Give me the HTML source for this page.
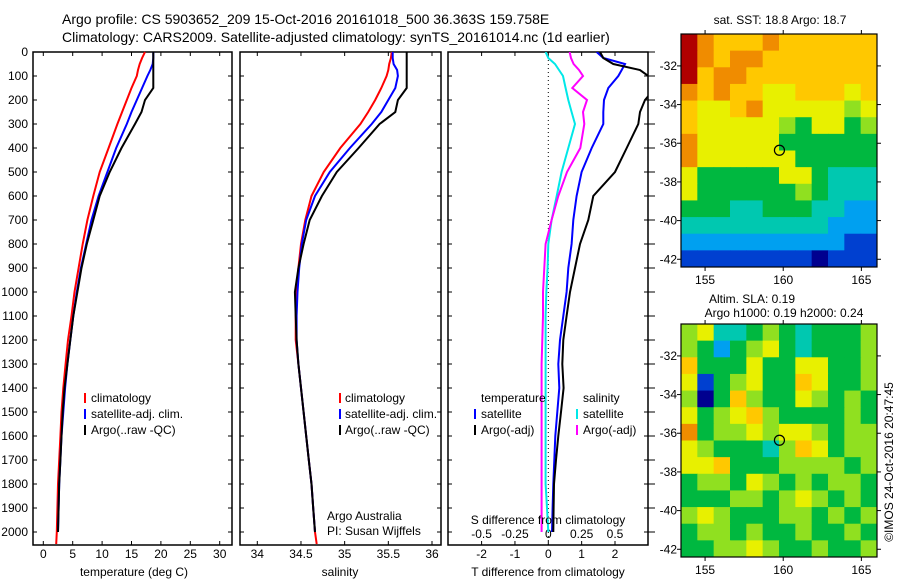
<!DOCTYPE html>
<html><head><meta charset="utf-8">
<style>
body{margin:0;background:#fff;}
svg{display:block;font-family:"Liberation Sans",sans-serif;}
text{fill:#000;}
</style></head>
<body>
<svg id="c" width="900" height="580" viewBox="0 0 900 580">
<text x="62" y="24" font-size="14">Argo profile: CS 5903652_209 15-Oct-2016 20161018_500 36.363S 159.758E</text>
<text x="62" y="42" font-size="14">Climatology: CARS2009. Satellite-adjusted climatology: synTS_20161014.nc (1d earlier)</text>
</svg>
<script>
// ---- data ----
const depths = [0,25,50,75,100,150,200,250,300,400,500,600,700,800,900,1000,1100,1200,1300,1400,1500,1600,1700,1800,1900,2000];
const tempClim = [17.3,16.8,16.4,16.1,15.9,15.0,14.2,13.4,12.6,11.1,9.6,8.5,7.5,6.7,6.0,5.3,4.8,4.2,3.8,3.4,3.1,2.9,2.7,2.5,2.4,2.3];
const tempSat  = [18.7,18.7,18.6,18.2,17.7,16.8,15.9,15.0,14.2,12.4,10.9,9.4,8.2,7.3,6.4,5.7,5.1,4.6,4.1,3.7,3.4,3.1,2.9,2.7,2.6,2.5];
const tempArgo = [18.7,18.7,18.7,18.7,18.7,18.7,17.3,16.7,15.6,13.3,11.3,9.6,8.5,7.4,6.5,5.8,5.1,4.6,4.1,3.6,3.3,3.1,2.9,2.7,2.6,2.5];
const salClim = [35.54,35.53,35.51,35.50,35.48,35.42,35.35,35.27,35.18,34.95,34.76,34.62,34.55,34.50,34.47,34.45,34.44,34.44,34.47,34.50,34.53,34.56,34.59,34.62,34.64,34.66];
const salSat  = [35.55,35.55,35.56,35.60,35.61,35.58,35.50,35.42,35.31,35.06,34.83,34.66,34.56,34.51,34.48,34.46,34.45,34.45,34.47,34.50,34.53,34.56,34.59,34.62,34.64,34.66];
const salArgo = [35.71,35.71,35.71,35.71,35.71,35.71,35.61,35.58,35.40,35.16,34.91,34.74,34.60,34.53,34.47,34.43,34.44,34.45,34.47,34.50,34.53,34.56,34.59,34.62,34.64,34.66];
const dTSat  = [1.45,1.65,2.3,2.2,2.1,1.8,1.67,1.65,1.65,1.3,1.0,0.85,0.75,0.70,0.6,0.55,0.45,0.35,0.3,0.33,0.27,0.21,0.18,0.15,0.13,0.11];
const dTArgo = [1.55,1.65,1.95,2.75,3.0,3.2,2.9,2.75,2.7,2.35,2.0,1.35,1.2,0.95,0.8,0.65,0.55,0.45,0.42,0.46,0.38,0.3,0.23,0.17,0.16,0.15];
const dSSat  = [-0.02,0.0,0.05,0.08,0.11,0.13,0.15,0.175,0.2,0.15,0.10,0.063,0.025,0.0,-0.005,-0.015,-0.02,-0.02,-0.02,-0.02,-0.02,-0.02,-0.02,-0.02,-0.01,0.0];
const dSArgo = [0.16,0.17,0.19,0.23,0.26,0.18,0.29,0.26,0.27,0.24,0.14,0.075,0.025,-0.02,-0.03,-0.04,-0.04,-0.045,-0.05,-0.05,-0.05,-0.05,-0.05,-0.05,-0.05,-0.05];
const depthTicks = [0,100,200,300,400,500,600,700,800,900,1000,1100,1200,1300,1400,1500,1600,1700,1800,1900,2000];
const tempTicks = [0,5,10,15,20,25,30];
const salTicks = [34,34.5,35,35.5,36];
const salTickLabels = ["34","34.5","35","35.5","36"];
const dTTicks = [-2,-1,0,1,2];
const dSTicks = [-0.5,-0.25,0,0.25,0.5];
const lonTicks = [155,160,165];
const latTicks = [-32,-34,-36,-38,-40,-42];
const sstGrid = [
[9,8,7,7,7,8,7,7,7,7,7,7],[9,8,7,8,8,7,7,7,7,7,7,7],[9,7,8,8,7,7,7,7,7,7,7,7],
[8,7,8,7,7,6,6,7,7,7,6,7],[7,6,6,7,8,6,6,6,6,6,5,6],[7,6,6,6,6,6,5,4,6,6,4,5],
[8,6,6,6,6,6,4,4,4,4,4,4],[8,6,6,6,6,6,6,4,4,4,4,4],[6,4,4,4,4,4,6,6,4,3,3,3],
[6,4,4,4,4,4,4,5,4,3,3,3],[4,4,4,3,3,4,4,4,3,3,2,2],[3,3,3,3,3,3,3,3,3,2,2,2],
[2,2,2,2,2,2,2,2,2,2,1,1],[1,1,1,1,1,1,1,1,0,1,1,1]];
const slaGrid = [
[5,6,3,3,4,5,4,3,4,4,4,5],[5,4,2,4,5,6,4,3,4,4,4,5],[7,4,4,4,6,4,4,6,6,4,4,5],
[6,1,4,5,6,4,4,7,6,4,4,5],[5,0,4,7,5,4,4,6,5,4,5,4],[6,4,5,6,7,5,4,4,4,4,5,4],
[8,4,5,5,6,5,6,6,5,4,5,5],[6,5,4,4,4,3,5,7,6,4,5,5],[6,6,7,4,4,4,5,5,5,5,4,5],
[4,5,5,4,6,5,4,5,4,5,5,4],[4,4,4,5,5,4,5,6,5,4,5,4],[5,6,5,4,4,4,5,5,4,5,4,5],
[4,5,5,4,5,4,4,5,4,4,5,4],[4,4,5,5,6,5,4,4,5,4,4,5]];
const palette = ["#00008f","#0040d0","#00a0f0","#00c8b0","#00b840","#90e020","#e8f000","#ffc800","#f08c00","#b00000"];
const argoLon = 159.758, argoLat = -36.363;

// ---- helpers ----
const svg = document.getElementById('c');
const NS = 'http://www.w3.org/2000/svg';
function mk(tag, attrs, parent){const e=document.createElementNS(NS,tag);for(const k in attrs)e.setAttribute(k,attrs[k]);(parent||svg).appendChild(e);return e;}
const TOP=52, BOT=545;
const yD = d => TOP + d*0.24;
function lin(d0,d1,p0,p1){return v=>p0+(v-d0)*(p1-p0)/(d1-d0);}
const xT = lin(0,30,43.3,219.7);
const xS = lin(34,36,257.3,432);
const xDT = lin(0,2,548.3,615);
const xDS = lin(0,0.5,548.3,615);

function frame(x0,x1,name){
  const r=mk('rect',{x:x0,y:TOP,width:x1-x0,height:BOT-TOP,fill:'none',stroke:'#000','stroke-width':1.5});
  
  
  depthTicks.forEach(d=>{
    mk('line',{x1:x0,x2:x0+4,y1:yD(d),y2:yD(d),stroke:'#000'});
    mk('line',{x1:x1,x2:x1-4,y1:yD(d),y2:yD(d),stroke:'#000'});
  });
}
function line(xs,ys,xf,color,name,clipId){
  const pts=xs.map((v,i)=>xf(v).toFixed(1)+','+yD(ys[i]).toFixed(1)).join(' ');
  const p=mk('polyline',{points:pts,fill:'none',stroke:color,'stroke-width':2});
  if(clipId)p.setAttribute('clip-path','url(#'+clipId+')');
  
  
}
function txt(x,y,s,size,anchor,name){
  const t=mk('text',{x:x,y:y,'font-size':size,'text-anchor':anchor||'start'});
  t.textContent=s;
  
  
  return t;
}

// clip for panel 3
const defs=mk('defs',{});
const cp=mk('clipPath',{id:'p3clip'},defs);
mk('rect',{x:448,y:TOP,width:200,height:BOT-TOP},cp);

// ---- panel 1 ----
frame(33,232,'temperature-panel');
tempTicks.forEach(t=>{mk('line',{x1:xT(t),x2:xT(t),y1:TOP,y2:TOP+4,stroke:'#000'});mk('line',{x1:xT(t),x2:xT(t),y1:BOT,y2:BOT-4,stroke:'#000'});txt(xT(t),558,String(t),12,'middle','temp-tick-label');});
depthTicks.forEach(d=>txt(28,yD(d)+4,String(d),12,'end','depth-tick-label'));
line(tempClim.concat([2.2]),depths.concat([2050]),xT,'#ff0000','temp-climatology-line');
line(tempSat,depths,xT,'#0000ff','temp-satellite-line');
line(tempArgo,depths,xT,'#000000','temp-argo-line');
txt(134,576,'temperature (deg C)',12,'middle','temp-axis-title');
[['#ff0000','climatology'],['#0000ff','satellite-adj. clim.'],['#000','Argo(..raw -QC)']].forEach((l,i)=>{
  mk('rect',{x:84,y:393+i*16,width:2,height:10,fill:l[0]});
  txt(91,402+i*16,l[1],12,'start','temp-legend-entry');
});

// ---- panel 2 ----
frame(240,441,'salinity-panel');
salTicks.forEach((s,i)=>{mk('line',{x1:xS(s),x2:xS(s),y1:TOP,y2:TOP+4,stroke:'#000'});mk('line',{x1:xS(s),x2:xS(s),y1:BOT,y2:BOT-4,stroke:'#000'});txt(xS(s),558,salTickLabels[i],12,'middle','sal-tick-label');});
line(salClim.concat([34.68]),depths.concat([2050]),xS,'#ff0000','sal-climatology-line');
line(salSat,depths,xS,'#0000ff','sal-satellite-line');
line(salArgo,depths,xS,'#000000','sal-argo-line');
txt(340,576,'salinity',12,'middle','sal-axis-title');
[['#ff0000','climatology'],['#0000ff','satellite-adj. clim.'],['#000','Argo(..raw -QC)']].forEach((l,i)=>{
  mk('rect',{x:339,y:393+i*16,width:2,height:10,fill:l[0]});
  txt(345,402+i*16,l[1],12,'start','sal-legend-entry');
});
txt(327,520,'Argo Australia',12,'start','argo-australia-label');
txt(327,535,'PI: Susan Wijffels',12,'start','pi-label');

// ---- panel 3 ----
frame(448,648,'difference-panel');
depthTicks.forEach(d=>mk('line',{x1:648,x2:655,y1:yD(d),y2:yD(d),stroke:'#000'}));
dTTicks.forEach(t=>{mk('line',{x1:xDT(t),x2:xDT(t),y1:TOP,y2:TOP+4,stroke:'#000'});mk('line',{x1:xDT(t),x2:xDT(t),y1:BOT,y2:BOT-4,stroke:'#000'});txt(xDT(t),558,String(t),12,'middle','tdiff-tick-label');});
dSTicks.forEach(s=>txt(xDS(s),538,String(s),12,'middle','sdiff-tick-label'));
mk('line',{x1:548.3,x2:548.3,y1:TOP,y2:BOT,stroke:'#000','stroke-dasharray':'1,3'});
line(dSSat,depths,xDS,'#00e8e8','sdiff-satellite-line','p3clip');
line(dSArgo,depths,xDS,'#ff00ff','sdiff-argo-line','p3clip');
line(dTSat,depths,xDT,'#0000ff','tdiff-satellite-line','p3clip');
line(dTArgo,depths,xDT,'#000000','tdiff-argo-line','p3clip');
txt(548,524,'S difference from climatology',12,'middle','sdiff-axis-title');
txt(548,576,'T difference from climatology',12,'middle','tdiff-axis-title');
txt(481,402,'temperature',12,'start','legend-temperature-header');
txt(583,402,'salinity',12,'start','legend-salinity-header');
mk('rect',{x:474,y:409,width:2,height:10,fill:'#0000ff'});txt(481,418,'satellite',12,'start','legend-t-satellite');
mk('rect',{x:474,y:425,width:2,height:10,fill:'#000'});txt(481,434,'Argo(-adj)',12,'start','legend-t-argo');
mk('rect',{x:576,y:409,width:2,height:10,fill:'#00e8e8'});txt(583,418,'satellite',12,'start','legend-s-satellite');
mk('rect',{x:576,y:425,width:2,height:10,fill:'#ff00ff'});txt(583,434,'Argo(-adj)',12,'start','legend-s-argo');

// ---- maps ----
function map(grid,top,name){
  const L=681,R=877,B=top+233;
  const lon0=153.46,lon1=166.0,lat0=-30.35,lat1=-42.4;
  const xL=lin(lon0,lon1,L,R), yL=lin(lat0,lat1,top,B);
  const rows=grid.length, cols=grid[0].length;
  const cw=(R-L)/cols, ch=(B-top)/rows;
  grid.forEach((row,r)=>row.forEach((v,c)=>{
    const cell=mk('rect',{x:L+c*cw,y:top+r*ch,width:cw+0.5,height:ch+0.5,fill:palette[v]});
    
    
  }));
  const fr=mk('rect',{x:L,y:top,width:R-L,height:B-top,fill:'none',stroke:'#000','stroke-width':1.2});
  
  
  lonTicks.forEach(l=>{mk('line',{x1:xL(l),x2:xL(l),y1:top,y2:top-4,stroke:'#000'});mk('line',{x1:xL(l),x2:xL(l),y1:B,y2:B+4,stroke:'#000'});txt(xL(l),B+17,String(l),12,'middle',name+'-lon-label');});
  latTicks.forEach(l=>{mk('line',{x1:L,x2:L-4,y1:yL(l),y2:yL(l),stroke:'#000'});mk('line',{x1:R,x2:R+4,y1:yL(l),y2:yL(l),stroke:'#000'});txt(677,yL(l)+4,String(l),12,'end',name+'-lat-label');});
  const c=mk('circle',{cx:xL(argoLon),cy:yL(argoLat),r:5,fill:'none',stroke:'#000','stroke-width':1.2});
  
  
}
map(sstGrid,34,'sst-map');
map(slaGrid,324,'sla-map');
txt(780,24,'sat. SST: 18.8 Argo: 18.7',12,'middle','sst-map-title');
txt(752,303,'Altim. SLA: 0.19',12,'middle','sla-map-title');
txt(784,317,'Argo h1000: 0.19 h2000: 0.24',12,'middle','sla-argo-heights');
const cr=txt(0,0,'©IMOS 24-Oct-2016 20:47:45',12,'middle','imos-credit');
cr.setAttribute('transform','translate(893,462) rotate(-90)');
</script>
</body></html>
